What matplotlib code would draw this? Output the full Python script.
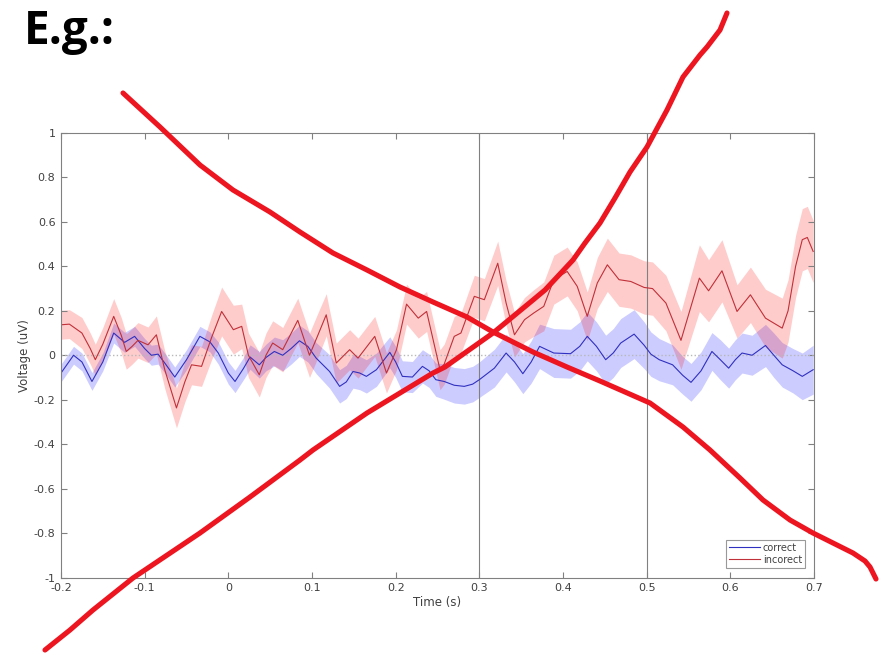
import numpy as np
import matplotlib
matplotlib.use('Agg')
import matplotlib.pyplot as plt

# ERP averages (uV) with shaded error, one time base per condition
t_correct = [-0.2, -0.185, -0.175, -0.163, -0.15, -0.137, -0.124, -0.112, -0.1, -0.092,
             -0.084, -0.075, -0.064, -0.05, -0.034, -0.022, -0.012, 0.0, 0.008, 0.018,
             0.026, 0.037, 0.045, 0.055, 0.065, 0.075, 0.085, 0.095, 0.105, 0.121,
             0.133, 0.141, 0.149, 0.157, 0.165, 0.177, 0.193, 0.2, 0.208, 0.22,
             0.232, 0.24, 0.248, 0.258, 0.27, 0.282, 0.292, 0.3, 0.318, 0.332,
             0.342, 0.352, 0.362, 0.372, 0.389, 0.409, 0.42, 0.429, 0.44, 0.451,
             0.46, 0.469, 0.485, 0.497, 0.505, 0.515, 0.531, 0.543, 0.553, 0.565,
             0.578, 0.588, 0.598, 0.606, 0.614, 0.626, 0.642, 0.652, 0.662, 0.675,
             0.686, 0.699]
v_correct = [-0.08, 0.0, -0.03, -0.118, -0.03, 0.10, 0.058, 0.085, 0.03, 0.0,
             0.005, -0.04, -0.098, -0.02, 0.085, 0.06, 0.01, -0.08, -0.118, -0.06,
             -0.008, -0.043, -0.01, 0.017, 0.0, 0.03, 0.065, 0.04, -0.013, -0.073,
             -0.14, -0.12, -0.073, -0.08, -0.095, -0.065, 0.013, -0.03, -0.095, -0.098,
             -0.05, -0.07, -0.11, -0.118, -0.135, -0.14, -0.13, -0.11, -0.058, 0.01,
             -0.03, -0.083, -0.03, 0.04, 0.01, 0.007, 0.04, 0.085, 0.04, -0.02,
             0.01, 0.055, 0.095, 0.045, 0.005, -0.02, -0.043, -0.09, -0.122, -0.07,
             0.017, -0.02, -0.058, -0.02, 0.01, 0.0, 0.044, 0.0, -0.043, -0.07,
             -0.095, -0.065]
err_correct = [0.04, 0.04, 0.04, 0.04, 0.04, 0.045, 0.045, 0.045, 0.045, 0.045,
               0.045, 0.045, 0.045, 0.045, 0.045, 0.045, 0.05, 0.05, 0.05, 0.05,
               0.055, 0.06, 0.06, 0.065, 0.07, 0.07, 0.07, 0.07, 0.07, 0.075,
               0.075, 0.075, 0.075, 0.075, 0.075, 0.075, 0.07, 0.07, 0.07, 0.07,
               0.075, 0.075, 0.075, 0.08, 0.08, 0.08, 0.08, 0.08, 0.085, 0.085,
               0.09, 0.09, 0.095, 0.1, 0.11, 0.11, 0.11, 0.11, 0.11, 0.11,
               0.11, 0.11, 0.11, 0.105, 0.1, 0.095, 0.09, 0.085, 0.085, 0.085,
               0.085, 0.09, 0.09, 0.09, 0.09, 0.09, 0.095, 0.1, 0.1, 0.1,
               0.105, 0.11]

t_incorrect = [-0.2, -0.19, -0.175, -0.165, -0.159, -0.15, -0.137, -0.128, -0.122, -0.115,
               -0.108, -0.096, -0.086, -0.076, -0.062, -0.052, -0.044, -0.032, -0.02, -0.008,
               0.006, 0.016, 0.024, 0.037, 0.045, 0.053, 0.065, 0.083, 0.097, 0.107,
               0.117, 0.129, 0.145, 0.155, 0.175, 0.189, 0.201, 0.213, 0.227, 0.237,
               0.253, 0.258, 0.27, 0.278, 0.294, 0.306, 0.322, 0.332, 0.342, 0.354,
               0.365, 0.377, 0.389, 0.405, 0.417, 0.429, 0.441, 0.453, 0.467, 0.481,
               0.497, 0.507, 0.523, 0.541, 0.563, 0.574, 0.59, 0.608, 0.624, 0.642,
               0.662, 0.669, 0.678, 0.686, 0.692, 0.699]
v_incorrect = [0.137, 0.14, 0.10, 0.03, -0.02, 0.05, 0.175, 0.09, 0.017, 0.04,
               0.067, 0.047, 0.092, -0.065, -0.237, -0.12, -0.043, -0.05, 0.08, 0.197,
               0.115, 0.13, 0.0, -0.088, 0.0, 0.055, 0.025, 0.157, 0.0, 0.09,
               0.182, -0.035, 0.025, -0.013, 0.085, -0.08, 0.025, 0.23, 0.167, 0.197,
               -0.065, -0.04, 0.085, 0.10, 0.265, 0.25, 0.414, 0.235, 0.092, 0.16,
               0.19, 0.22, 0.34, 0.377, 0.31, 0.175, 0.325, 0.407, 0.34, 0.332,
               0.305, 0.30, 0.235, 0.067, 0.347, 0.29, 0.38, 0.197, 0.272, 0.167,
               0.122, 0.2, 0.4, 0.52, 0.53, 0.467]
err_incorrect = [0.065, 0.065, 0.07, 0.07, 0.07, 0.075, 0.08, 0.08, 0.08, 0.08,
                 0.08, 0.08, 0.085, 0.085, 0.09, 0.09, 0.09, 0.09, 0.1, 0.11,
                 0.11, 0.1, 0.1, 0.1, 0.1, 0.1, 0.1, 0.1, 0.1, 0.1,
                 0.095, 0.09, 0.09, 0.09, 0.09, 0.09, 0.09, 0.09, 0.09, 0.09,
                 0.09, 0.09, 0.09, 0.09, 0.095, 0.095, 0.1, 0.1, 0.1, 0.1,
                 0.105, 0.11, 0.11, 0.11, 0.11, 0.11, 0.115, 0.12, 0.12, 0.12,
                 0.12, 0.12, 0.125, 0.13, 0.15, 0.14, 0.14, 0.12, 0.125, 0.13,
                 0.135, 0.14, 0.14, 0.14, 0.14, 0.14]

xticks = [-0.2, -0.1, 0, 0.1, 0.2, 0.3, 0.4, 0.5, 0.6, 0.7]
yticks = [-1, -0.8, -0.6, -0.4, -0.2, 0, 0.2, 0.4, 0.6, 0.8, 1]
markers = [0.3, 0.5]

# freehand strokes over the figure, in pixels from the top-left corner
stroke1_x = [123, 160, 200, 233, 270, 300, 333, 367, 400, 433, 467, 493, 533, 567, 600,
             650, 683, 710, 740, 763, 790, 813, 835, 853, 865, 870, 876]
stroke1_y = [93, 127, 165, 190, 212, 232, 253, 270, 287, 302, 317, 332, 352, 367, 381,
             403, 427, 450, 478, 500, 520, 533, 544, 553, 561, 567, 579]
stroke2_x = [45, 70, 93, 133, 200, 250, 300, 313, 367, 433, 445, 493, 533, 545, 573,
             585, 600, 615, 630, 647, 667, 683, 700, 707, 720, 727]
stroke2_y = [650, 630, 610, 578, 533, 497, 460, 450, 413, 373, 367, 333, 300, 290, 260,
             243, 223, 198, 172, 147, 110, 77, 55, 47, 30, 13]

W, H = 889, 655
fig = plt.figure(figsize=(W / 100, H / 100), dpi=100)
ax = fig.add_axes([61 / W, 1 - 577.5 / H, 753 / W, 444.5 / H])

gray = '#808080'
txt = '#404040'

tc, vc, ec = map(np.array, (t_correct, v_correct, err_correct))
ti, vi, ei = map(np.array, (t_incorrect, v_incorrect, err_incorrect))

ax.fill_between(tc, vc - ec, vc + ec, color='#0000ff', alpha=0.2, lw=0)
ax.fill_between(ti, vi - ei, vi + ei, color='#ff0000', alpha=0.2, lw=0)
ax.axhline(0, color='#b8b8b8', lw=1, ls=':')
for m in markers:
    ax.axvline(m, color=gray, lw=0.8)
ax.plot(tc, vc, color='#3030c0', lw=0.8, label='correct')
ax.plot(ti, vi, color='#c03038', lw=0.8, label='incorect')

ax.set_xlim(-0.2, 0.7)
ax.set_ylim(-1, 1)
ax.set_xticks(xticks)
ax.set_xticklabels(['%g' % x for x in xticks])
ax.set_yticks(yticks)
ax.set_yticklabels(['%g' % y for y in yticks])
ax.tick_params(direction='in', length=4, width=0.8, color=gray, labelsize=8,
               labelcolor=txt, top=True, right=True, pad=4)
for s in ax.spines.values():
    s.set_color(gray)
    s.set_linewidth(0.8)
ax.set_xlabel('Time (s)', fontsize=8.5, color=txt, labelpad=2)
ax.set_ylabel('Voltage (uV)', fontsize=8.5, color=txt, labelpad=2)

leg = ax.legend(loc='lower right', bbox_to_anchor=(0.988, 0.022), fontsize=7,
                frameon=True, fancybox=False, handlelength=3.2, borderpad=0.3,
                labelspacing=0.2, handletextpad=0.3, borderaxespad=0)
leg.get_frame().set_edgecolor(gray)
leg.get_frame().set_linewidth(0.8)
for t in leg.get_texts():
    t.set_color(txt)

fig.text(24 / W, 1 - 44 / H, 'E.g.:', fontsize=33, fontweight='bold',
         family='Open Sans', va='baseline', ha='left')

over = fig.add_axes([0, 0, 1, 1], zorder=10)
over.set_xlim(0, W)
over.set_ylim(H, 0)
over.axis('off')
over.patch.set_alpha(0)
for sx, sy in ((stroke1_x, stroke1_y), (stroke2_x, stroke2_y)):
    over.plot(sx, sy, color='#ec1520', lw=3.7, solid_capstyle='round',
              solid_joinstyle='round')

fig.savefig('out.png', dpi=100)
